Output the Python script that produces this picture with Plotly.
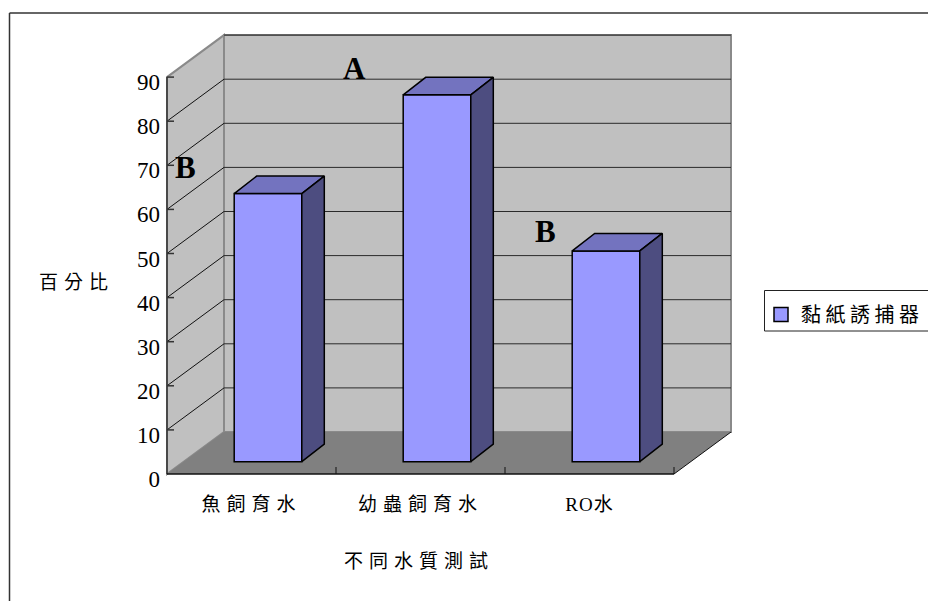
import plotly.graph_objects as go

categories = ["魚飼育水", "幼蟲飼育水", "RO水"]
series_name = "黏紙誘捕器"
values = [60.8, 83.2, 47.8]
y_ticks = [0, 10, 20, 30, 40, 50, 60, 70, 80, 90]
letters = ["B", "A", "B"]
letter_x = [0.107, 1.107, 2.237]
letter_y = [69.6, 92.0, 55.0]

# oblique projection of the Excel-style 3D chart, in axis units
PX_X = 169.0
PX_Y = 4.41
DX = 57 / PX_X
DY = 42 / PX_Y
BAR_W = 0.4
BAR_SHIFT_X = 16.5 / PX_X
BAR_BASE = 12.3 / PX_Y
BAR_DX = 22.5 / PX_X
BAR_DY = 17.5 / PX_Y
PAD = 3  # px of room round the walls so that their edges are not clipped
LEFT, RIGHT, TOP, BOTTOM = 167 - PAD, 197 - PAD, 33 - PAD, 127 - PAD
W, H = 928, 601
n = len(categories)


def paper_x(px):
    return (px - LEFT) / (W - LEFT - RIGHT)


def paper_y(py):
    return (H - BOTTOM - py) / (H - BOTTOM - TOP)


shapes = []


def poly(xs, ys, fill, line="rgba(0,0,0,0)", width=0):
    d = "M" + " L".join(f"{x:.4f},{y:.4f}" for x, y in zip(xs, ys)) + " Z"
    shapes.append(dict(type="path", path=d, xref="x", yref="y", fillcolor=fill,
                       line=dict(color=line, width=width), layer="below"))


def seg(x0, y0, x1, y1, color, width):
    shapes.append(dict(type="line", x0=x0, y0=y0, x1=x1, y1=y1, xref="x", yref="y",
                       line=dict(color=color, width=width), layer="below"))


ymax = y_ticks[-1]
# walls and floor
poly([DX, DX + n, DX + n, DX], [DY, DY, DY + ymax, DY + ymax], "#C0C0C0", "#8a8a8a", 2)
poly([0, DX, DX, 0], [0, DY, DY + ymax, ymax], "#C0C0C0", "#8a8a8a", 2)
poly([0, n, n + DX, DX], [0, 0, DY, DY], "#808080")
# gridlines
for v in y_ticks[1:]:
    seg(DX, DY + v, DX + n, DY + v, "#2a2a2a", 1)
    if v < ymax:
        seg(0, v, DX, DY + v, "#111111", 1)
# axis lines and tick marks
seg(0, 0, 0, ymax, "#333333", 1.5)
seg(0, 0, n, 0, "#111111", 1.5)
seg(n, 0, n + DX, DY, "#111111", 1)
for v in y_ticks[1:]:
    seg(0, v, 7 / PX_X, v, "#333333", 1.5)
for i in range(1, n + 1):
    seg(i, 0, i, 7 / PX_Y, "#111111", 1)

# outer chart frame (runs off the right and bottom of the picture)
for x0, y0, x1, y1 in [(9.5, 13, 960, 13), (9.5, 13, 9.5, 640)]:
    shapes.append(dict(type="line", xref="paper", yref="paper",
                       x0=paper_x(x0), y0=paper_y(y0), x1=paper_x(x1), y1=paper_y(y1),
                       line=dict(color="#333333", width=1.5), layer="below"))
# legend frame
shapes.append(dict(type="rect", xref="paper", yref="paper",
                   x0=paper_x(764.5), x1=paper_x(960), y0=paper_y(331), y1=paper_y(290.5),
                   line=dict(color="#222222", width=1), fillcolor="white", layer="below"))

fig = go.Figure()
centers = [i + 0.5 + BAR_SHIFT_X for i in range(n)]

fig.add_trace(go.Bar(
    x=centers, y=values, base=[BAR_BASE] * n, width=BAR_W, name=series_name,
    marker=dict(color="#9999FF", line=dict(color="black", width=1.5)),
    showlegend=False, hoverinfo="skip"))
# legend entry with the larger square swatch of the reference
fig.add_trace(go.Scatter(
    x=[None], y=[None], mode="markers", name=series_name,
    marker=dict(symbol="square", size=14, color="#9999FF", line=dict(color="black", width=1.5))))

for c, v in zip(centers, values):
    x0, x1 = c - BAR_W / 2, c + BAR_W / 2
    top = BAR_BASE + v
    # top face
    fig.add_trace(go.Scatter(
        x=[x0, x1, x1 + BAR_DX, x0 + BAR_DX, x0],
        y=[top, top, top + BAR_DY, top + BAR_DY, top],
        mode="lines", fill="toself", fillcolor="#7373BF",
        line=dict(color="black", width=1.5), showlegend=False, hoverinfo="skip"))
    # side face
    fig.add_trace(go.Scatter(
        x=[x1, x1 + BAR_DX, x1 + BAR_DX, x1, x1],
        y=[BAR_BASE, BAR_BASE + BAR_DY, top + BAR_DY, top, BAR_BASE],
        mode="lines", fill="toself", fillcolor="#4D4D80",
        line=dict(color="black", width=1.5), showlegend=False, hoverinfo="skip"))

annotations = [
    dict(x=lx, y=ly, xref="x", yref="y", text=f"<b>{t}</b>", showarrow=False,
         font=dict(family="Liberation Serif", size=31, color="black"))
    for t, lx, ly in zip(letters, letter_x, letter_y)
]
annotations += [
    dict(x=paper_x(419), y=paper_y(561), xref="paper", yref="paper", text="不同水質測試",
         xanchor="center", yanchor="middle", showarrow=False, font=dict(size=19)),
    dict(x=paper_x(76), y=paper_y(282), xref="paper", yref="paper", text="百分比",
         xanchor="center", yanchor="middle", showarrow=False, font=dict(size=19)),
]

fig.update_layout(
    width=W, height=H, margin=dict(l=LEFT, r=RIGHT, t=TOP, b=BOTTOM, pad=0, autoexpand=False),
    paper_bgcolor="white", plot_bgcolor="white", barmode="overlay",
    font=dict(family="Liberation Serif, Noto Sans CJK TC", size=18, color="black"),
    shapes=shapes, annotations=annotations,
    legend=dict(x=paper_x(761), y=paper_y(295), xanchor="left", yanchor="top",
                bgcolor="rgba(0,0,0,0)", borderwidth=0, font=dict(size=20), itemwidth=30,
                entrywidth=118, entrywidthmode="pixels"),
    xaxis=dict(range=[-PAD / PX_X, n + DX + PAD / PX_X], showgrid=False, zeroline=False,
               showline=False, tickmode="array", tickvals=[i + 0.5 for i in range(n)],
               ticktext=categories, ticks="", ticklabelstandoff=14, tickfont=dict(size=19)),
    yaxis=dict(range=[-PAD / PX_Y, 100 + PAD / PX_Y], showgrid=False, zeroline=False,
               showline=False, tickmode="array", tickvals=y_ticks, ticks="",
               ticklabelstandoff=3, ticklabelshift=5, tickfont=dict(size=23)),
)

post = """
document.documentElement.style.margin='0';
document.body.style.margin='0';
var gd = document.querySelector('.plotly-graph-div');
gd.querySelectorAll('.xtick text').forEach(function(t){
  t.style.letterSpacing = /[A-Z]/.test(t.textContent) ? '1px' : '6px';
});
gd.querySelectorAll('.legendtext').forEach(function(t){t.style.letterSpacing='4.5px';});
gd.querySelectorAll('.legend .scrollbox').forEach(function(t){t.removeAttribute('clip-path');t.style.clipPath='none';});
gd.querySelectorAll('.annotation-text').forEach(function(t){
  if (t.textContent.length > 1) t.style.letterSpacing='6px';
});
"""
fig.write_html("out.html", post_script=post, config={"displayModeBar": False})
